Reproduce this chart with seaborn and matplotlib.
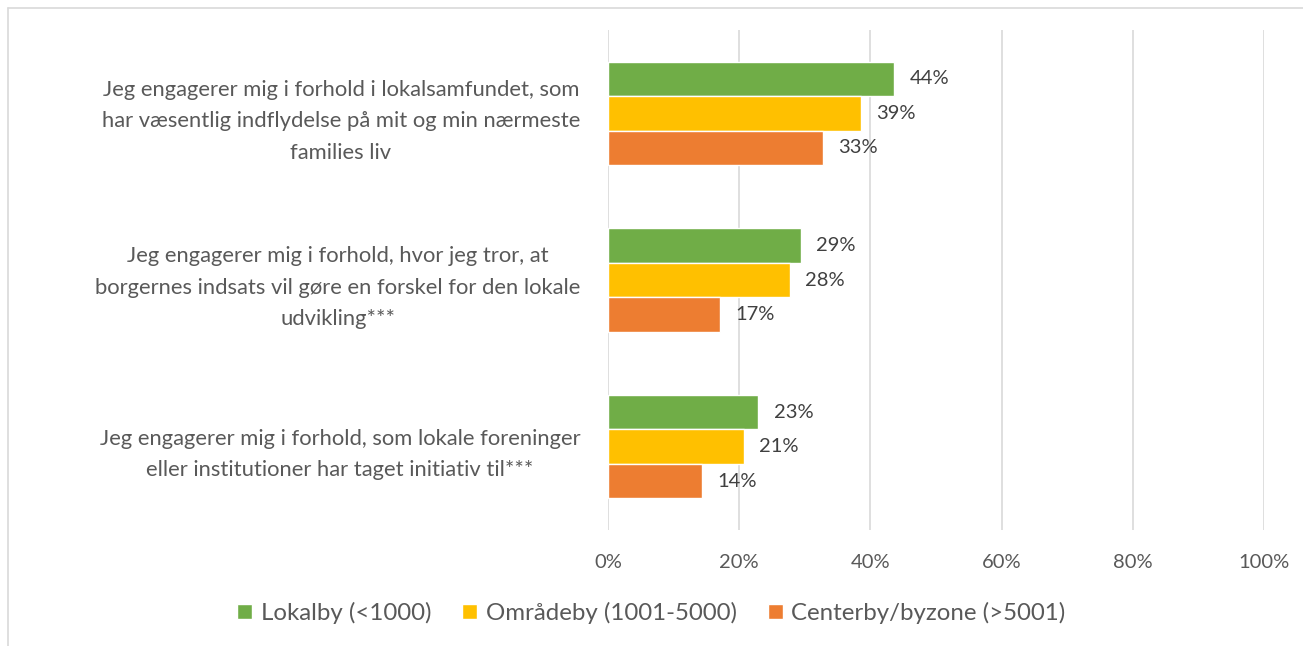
from matplotlib import pyplot as plt
from matplotlib.lines import Line2D
from matplotlib import ticker
import pandas as pd
import seaborn as sns

categories = [
    "Jeg engagerer mig i forhold i lokalsamfundet, som\nhar væsentlig indflydelse på mit og min nærmeste\nfamilies liv",
    "Jeg engagerer mig i forhold, hvor jeg tror, at\nborgernes indsats vil gøre en forskel for den lokale\nudvikling***",
    "Jeg engagerer mig i forhold, som lokale foreninger\neller institutioner har taget initiativ til***",
]
series = ["Lokalby (<1000)", "Områdeby (1001-5000)", "Centerby/byzone (>5001)"]
lokalby = [0.436, 0.294, 0.229]
omraadeby = [0.386, 0.277, 0.207]
centerby = [0.328, 0.171, 0.143]
colors = ["#70AD47", "#FFC000", "#ED7D31"]

rows = []
for name, vals in zip(series, [lokalby, omraadeby, centerby]):
    for cat, v in zip(categories, vals):
        rows.append({"kategori": cat, "gruppe": name, "andel": v})
df = pd.DataFrame(rows)

sns.set_theme(style="white")
plt.rcParams['font.family'] = ['Lato', 'DejaVu Sans']
text_col = "#595959"

fig = plt.figure(figsize=(13.03, 6.46), dpi=100)
ax = fig.add_axes([608 / 1303, 1 - 530 / 646, 656 / 1303, 500 / 646])

sns.barplot(data=df, x="andel", y="kategori", hue="gruppe", order=categories,
            hue_order=series, palette=colors, width=0.62, orient="h",
            saturation=1, errorbar=None, ax=ax, legend=True)

for cont in ax.containers:
    ax.bar_label(cont, labels=[f"{round(b.get_width() * 100):.0f}%" for b in cont],
                 padding=11, fontsize=14.5, color="#404040")

ax.set_xlim(0, 1)
ax.xaxis.set_major_locator(ticker.MultipleLocator(0.2))
ax.xaxis.set_major_formatter(ticker.PercentFormatter(1.0, decimals=0))
ax.grid(axis="x", color="#D9D9D9", linewidth=1.2)
ax.set_axisbelow(True)
for s in ax.spines.values():
    s.set_visible(False)
ax.set_xlabel("")
ax.set_ylabel("")
ax.tick_params(axis="x", length=0, pad=17, labelsize=14.5, labelcolor=text_col)
ax.tick_params(axis="y", length=0, pad=20, labelsize=15.8, labelcolor=text_col)
for lab in ax.get_yticklabels():
    lab.set_multialignment("center")
    lab.set_linespacing(1.72)

handles, labels = ax.get_legend_handles_labels()
ax.legend_.remove()
fig.legend(handles, labels, loc="center", bbox_to_anchor=(0.5, 1 - 613 / 646),
           ncol=3, frameon=False, fontsize=17.3, handlelength=0.62, handleheight=0.62,
           handletextpad=0.35, columnspacing=1.3, labelcolor=text_col)

# thin frame like the exported chart area
fig.add_artist(Line2D([8 / 1303, 8 / 1303], [0, 1 - 8 / 646], color="#D9D9D9", lw=1.2))
fig.add_artist(Line2D([8 / 1303, 1], [1 - 8 / 646, 1 - 8 / 646], color="#D9D9D9", lw=1.2))

fig.savefig("out.png", dpi=100)
